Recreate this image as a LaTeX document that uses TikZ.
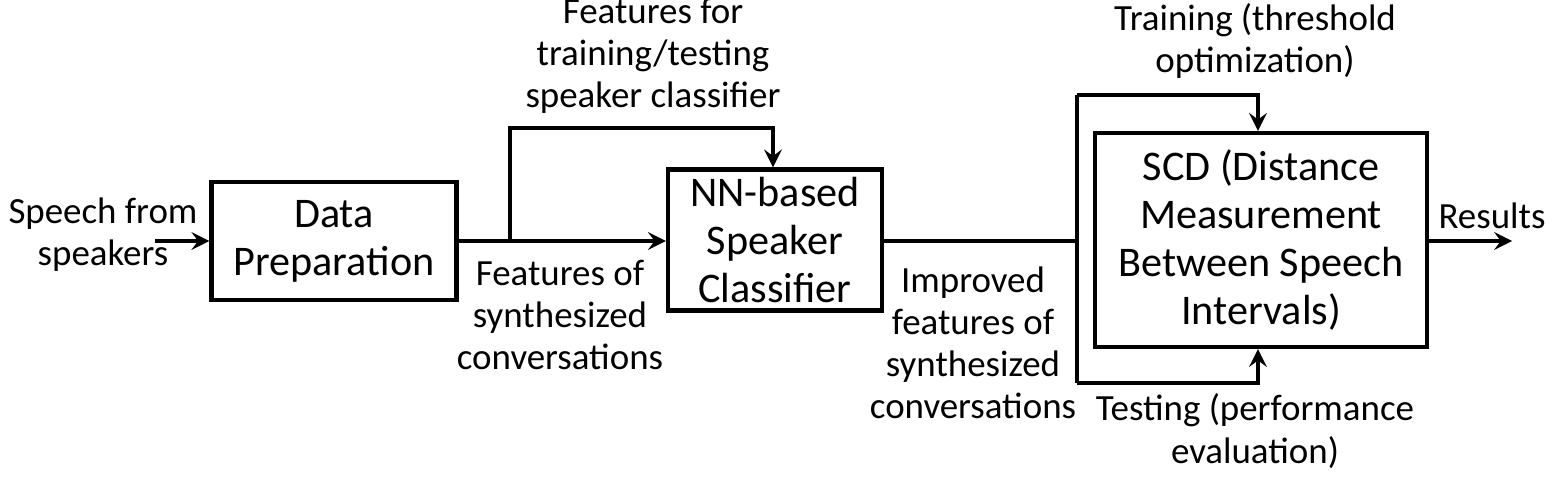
\documentclass[tikz,border=0pt]{standalone}
\usepackage{fontspec}
\setmainfont{Carlito}
\begin{document}
\begin{tikzpicture}[
    x=0.01cm, y=-0.01cm,
    every node/.style={font=\fontsize{10.5pt}{12pt}\selectfont, align=center},
    block/.style={draw, rectangle, line width=1.2pt, inner sep=0pt, font=\fontsize{12pt}{13.6pt}\selectfont},
    edge/.style={draw, ->, >=stealth, line width=1.2pt},
    wire/.style={draw, line width=1.2pt},
    label/.style={draw=none, inner sep=0pt}
]
\useasboundingbox (0,0) rectangle (1561,483);

% Blocks
\node[block, minimum width=2.45cm, minimum height=1.18cm] (prep) at (334,241) {Data\\Preparation};
\node[block, minimum width=2.14cm, minimum height=1.41cm] (nn) at (775,240) {NN-based\\Speaker\\Classifier};
\node[block, minimum width=3.32cm, minimum height=2.14cm] (scd) at (1261,240) {SCD (Distance\\Measurement\\Between Speech\\Intervals)};

% Junctions
\coordinate (in) at (155,241);
\coordinate (split) at (510,241);
\coordinate (splittop) at (510,128);
\coordinate (nntop) at (773,128);
\coordinate (fork) at (1077,241);
\coordinate (forktop) at (1077,95);
\coordinate (forkbot) at (1077,383);
\coordinate (scdtop) at (1258,95);
\coordinate (scdbot) at (1258,383);
\coordinate (out) at (1512,241);

% Connectors
\draw[edge] (in) -- (prep.west |- in);
\draw[edge] (prep.east |- in) -- (nn.west |- in);
\draw[edge] (split) -- (splittop) -- (nntop) -- (nn.north -| nntop);
\draw[wire] (nn.east |- in) -- (fork);
\draw[wire] (forktop) -- (forkbot);
\draw[edge] (forktop) -- (scdtop) -- (scd.north -| scdtop);
\draw[edge] (forkbot) -- (scdbot) -- (scd.south -| scdbot);
\draw[edge] (scd.east |- out) -- (out);

% Labels
\node[label] (lin) at (103,235) {Speech from\\speakers};
\node[label] (ltrain) at (653,56) {Features for\\training/testing\\speaker classifier};
\node[label] (lsyn) at (560,315) {Features of\\synthesized\\conversations};
\node[label] (limp) at (973,343) {Improved\\features of\\synthesized\\conversations};
\node[label] (lthr) at (1255,41) {Training (threshold\\optimization)};
\node[label] (lperf) at (1255,431) {Testing (performance\\evaluation)};
\node[label] (lres) at (1492,216) {Results};
\end{tikzpicture}
\end{document}
